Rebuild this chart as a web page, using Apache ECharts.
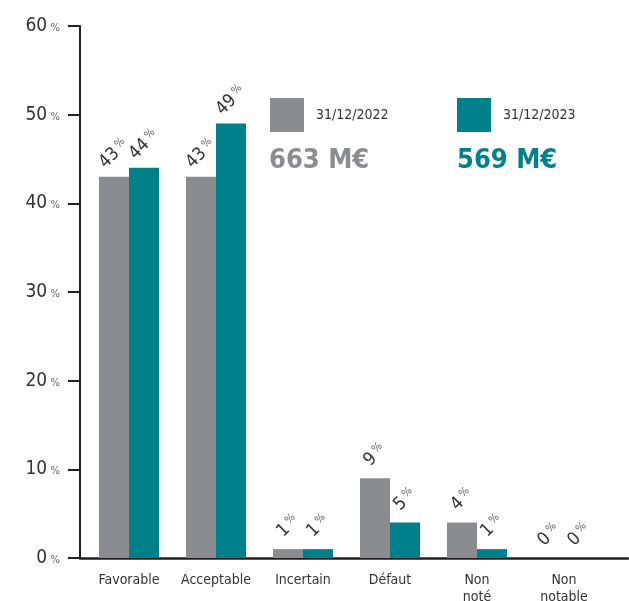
<!DOCTYPE html>
<html>
<head>
<meta charset="utf-8">
<script src="https://cdn.jsdelivr.net/npm/echarts@6/dist/echarts.min.js"></script>
<style>
  html, body { margin: 0; padding: 0; background: #fff; }
  #chart { width: 629px; height: 601px; }
</style>
</head>
<body>
<div id="chart"></div>
<script>
const categories = ['Favorable', 'Acceptable', 'Incertain', 'Défaut', 'Non\nnoté', 'Non\nnotable'];
const seriesNames = ['31/12/2022', '31/12/2023'];
const values2022 = [43, 43, 1, 9, 4, 0];
const values2023 = [44, 49, 1, 4, 1, 0];
const labels2022 = ['43', '43', '1', '9', '4', '0'];
const labels2023 = ['44', '49', '1', '5', '1', '0'];
const totals = ['663 M€', '569 M€'];
const yTicks = [0, 10, 20, 30, 40, 50, 60];

const FONT = "'Liberation Sans Narrow', 'DejaVu Sans Condensed', sans-serif";
const GRAY = '#8b8c90';
const TEAL = '#00808a';
const INK = '#231f20';

const valueLabels = [labels2022, labels2023];

var dom = document.getElementById('chart');
var myChart = echarts.init(dom, null, { renderer: 'canvas' });

function barLabel() {
  return {
    show: true,
    position: 'top',
    distance: 23,
    rotate: 45,
    align: 'center',
    verticalAlign: 'middle',
    formatter: (p) => `{n|${valueLabels[p.seriesIndex][p.dataIndex]}}{p| %}`,
    rich: {
      n: { fontFamily: FONT, fontSize: 18, color: '#333' },
      p: { fontFamily: FONT, fontSize: 11, color: '#666', verticalAlign: 'top', padding: [0, 0, 6, 0] }
    }
  };
}

var option = {
  backgroundColor: '#fff',
  animation: false,
  textStyle: { fontFamily: FONT },
  grid: [
    { left: 85.5, right: 21.5, top: 26, bottom: 43, containLabel: false, outerBoundsMode: 'none' },
    { left: 80, right: 1, top: 26, bottom: 43, containLabel: false, outerBoundsMode: 'none' }
  ],
  legend: [
    {
      data: [seriesNames[0]], left: 270, top: 98, icon: 'rect', padding: 0,
      itemWidth: 34, itemHeight: 34,
      textStyle: { fontFamily: FONT, fontSize: 14, color: '#333', padding: [0, 0, 0, 7] }
    },
    {
      data: [seriesNames[1]], left: 457, top: 98, icon: 'rect', padding: 0,
      itemWidth: 34, itemHeight: 34,
      textStyle: { fontFamily: FONT, fontSize: 14, color: '#333', padding: [0, 0, 0, 7] }
    }
  ],
  title: [
    { text: totals[0], left: 269, top: 147, padding: 0, textStyle: { fontFamily: FONT, fontSize: 27, fontWeight: 'bold', color: GRAY } },
    { text: totals[1], left: 457, top: 147, padding: 0, textStyle: { fontFamily: FONT, fontSize: 27, fontWeight: 'bold', color: TEAL } }
  ],
  xAxis: [
    {
      type: 'category', gridIndex: 0, data: categories,
      axisLine: { show: false }, axisTick: { show: false },
      axisLabel: { fontFamily: FONT, fontSize: 14, color: '#333', margin: 14, lineHeight: 17, interval: 0 }
    },
    {
      type: 'value', gridIndex: 1, min: 0, max: 1,
      axisLine: { show: true, onZero: false, lineStyle: { color: INK, width: 2.5 } },
      axisTick: { show: false }, axisLabel: { show: false }, splitLine: { show: false }
    }
  ],
  yAxis: [
    { type: 'value', gridIndex: 0, min: 0, max: 60, interval: 10, show: false },
    {
      type: 'value', gridIndex: 1, min: 0, max: 60, interval: 10,
      axisLine: { show: true, lineStyle: { color: INK, width: 2 } },
      axisTick: { show: true, length: 12, lineStyle: { color: INK, width: 2 } },
      splitLine: { show: false },
      axisLabel: {
        margin: 20,
        formatter: (v) => yTicks.includes(v) ? `{n|${v}} {p|%}` : '',
        rich: {
          n: { fontFamily: FONT, fontSize: 19, color: '#333' },
          p: { fontFamily: FONT, fontSize: 11, color: '#666', padding: [4, 0, 0, 0] }
        }
      }
    }
  ],
  series: [
    {
      name: seriesNames[0], type: 'bar', xAxisIndex: 0, yAxisIndex: 0,
      data: values2022, barWidth: 30, barGap: '0%',
      itemStyle: { color: GRAY }, label: barLabel()
    },
    {
      name: seriesNames[1], type: 'bar', xAxisIndex: 0, yAxisIndex: 0,
      data: values2023, barWidth: 30, barGap: '0%',
      itemStyle: { color: TEAL }, label: barLabel()
    }
  ]
};

myChart.setOption(option);
window.addEventListener('resize', myChart.resize);
</script>
</body>
</html>
